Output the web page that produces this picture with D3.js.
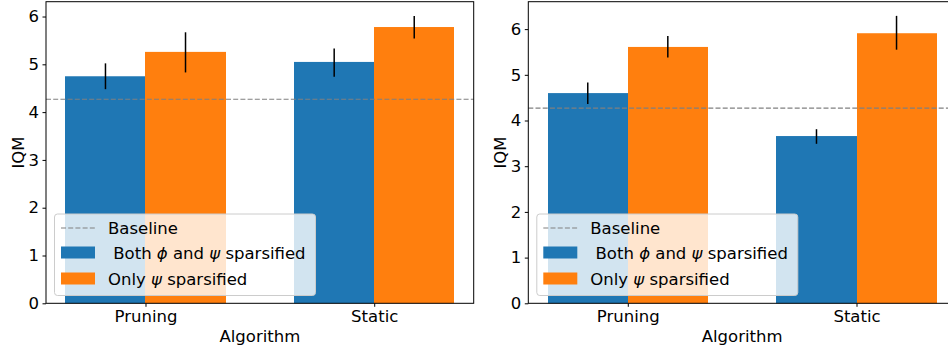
<!DOCTYPE html>
<html>
<head>
<meta charset="utf-8">
<script src="https://cdn.jsdelivr.net/npm/d3@7"></script>
<style>
  body { margin: 0; background: #fff; }
  svg { display: block; font-family: "DejaVu Sans", sans-serif; }
</style>
</head>
<body>
<svg id="chart"></svg>
<script>
// data
const categories = ["Pruning", "Static"];
const yTicks = [0, 1, 2, 3, 4, 5, 6];
const baselineLabel = "Baseline";

// left panel
const leftBoth = [4.75, 5.05];
const leftBothErr = [[4.48, 5.02], [4.74, 5.33]];
const leftOnly = [5.26, 5.78];
const leftOnlyErr = [[4.83, 5.67], [5.54, 6.01]];
const leftBaseline = 4.27;

// right panel
const rightBoth = [4.60, 3.66];
const rightBothErr = [[4.36, 4.83], [3.49, 3.81]];
const rightOnly = [5.61, 5.91];
const rightOnlyErr = [[5.38, 5.85], [5.55, 6.29]];
const rightBaseline = 4.27;

const colors = ["#1f77b4", "#ff7f0e"];
const barW = 0.35;

const W = 948, H = 349;
const svg = d3.select("#chart").attr("width", W).attr("height", H);

function drawPanel(opts) {
  const { left, right, top, bottom, yMax, both, bothErr, only, onlyErr, baseline } = opts;
  const g = svg.append("g");

  const x = d3.scaleLinear().domain([-0.435, 1.435]).range([left, right]);
  const y = d3.scaleLinear().domain([0, yMax]).range([bottom, top]);

  const series = [
    { vals: both, err: bothErr, off: -barW, color: colors[0] },
    { vals: only, err: onlyErr, off: 0, color: colors[1] }
  ];

  // bars
  series.forEach(s => {
    g.selectAll(null)
      .data(s.vals)
      .join("rect")
      .attr("x", (d, i) => Math.round(x(i + s.off)))
      .attr("width", (d, i) => Math.round(x(i + s.off + barW)) - Math.round(x(i + s.off)))
      .attr("y", d => y(d))
      .attr("height", d => y(0) - y(d))
      .attr("fill", s.color);
  });

  // error bars
  series.forEach(s => {
    g.selectAll(null)
      .data(s.err)
      .join("line")
      .attr("x1", (d, i) => x(i + s.off + barW / 2))
      .attr("x2", (d, i) => x(i + s.off + barW / 2))
      .attr("y1", d => y(d[0]))
      .attr("y2", d => y(d[1]))
      .attr("stroke", "#000")
      .attr("stroke-width", 1.5);
  });

  // baseline
  g.append("line")
    .attr("x1", left).attr("x2", right)
    .attr("y1", y(baseline)).attr("y2", y(baseline))
    .attr("stroke", "#808080")
    .attr("stroke-width", 1.1)
    .attr("stroke-dasharray", "5,2.2");

  // axes
  const yAxis = g.append("g")
    .attr("transform", `translate(${left},0)`)
    .call(d3.axisLeft(y).tickValues(yTicks).tickFormat(d3.format("d")).tickSize(3.5).tickPadding(3.5));
  const xAxis = g.append("g")
    .attr("transform", `translate(0,${bottom})`)
    .call(d3.axisBottom(x).tickValues([0, 1]).tickFormat(i => categories[i]).tickSize(3.5).tickPadding(3.5));
  [yAxis, xAxis].forEach(a => {
    a.select(".domain").remove();
    a.selectAll("line").attr("stroke", "#000").attr("stroke-width", 1);
    a.selectAll("text").attr("fill", "#000").style("font-size", "16.5px").style("font-family", "DejaVu Sans");
  });

  // spines
  g.append("rect")
    .attr("x", left).attr("y", top)
    .attr("width", right - left).attr("height", bottom - top)
    .attr("fill", "none")
    .attr("stroke", "#000")
    .attr("stroke-width", 1);

  // axis labels
  g.append("text")
    .attr("x", (left + right) / 2)
    .attr("y", 342)
    .attr("text-anchor", "middle")
    .style("font-size", "16.5px")
    .text("Algorithm");
  g.append("text")
    .attr("transform", `translate(${left - 22},${(top + bottom) / 2}) rotate(-90)`)
    .attr("text-anchor", "middle")
    .style("font-size", "16.5px")
    .text("IQM");

  // legend
  const lx = left + 8.5, ly = 214;
  const lg = g.append("g");
  lg.append("rect")
    .attr("x", lx).attr("y", ly)
    .attr("width", 261).attr("height", 81.5)
    .attr("rx", 3)
    .attr("fill", "#fff").attr("fill-opacity", 0.8)
    .attr("stroke", "#cccccc").attr("stroke-width", 1);
  const hx = lx + 6.5;
  lg.append("line")
    .attr("x1", hx).attr("x2", hx + 34)
    .attr("y1", ly + 14).attr("y2", ly + 14)
    .attr("stroke", "#808080").attr("stroke-width", 1.1)
    .attr("stroke-dasharray", "5,2.2");
  lg.append("text")
    .attr("x", hx + 47).attr("y", ly + 14)
    .attr("dy", "0.35em")
    .style("font-size", "16.5px")
    .text(baselineLabel);

  lg.append("rect")
    .attr("x", hx).attr("y", ly + 32.5)
    .attr("width", 34).attr("height", 12)
    .attr("fill", colors[0]);
  const t1 = lg.append("text")
    .attr("x", hx + 47).attr("y", ly + 39)
    .attr("dy", "0.35em")
    .attr("xml:space", "preserve")
    .style("font-size", "16.5px");
  t1.append("tspan").text(" Both ");
  t1.append("tspan").style("font-style", "italic").text("ϕ");
  t1.append("tspan").text(" and ");
  t1.append("tspan").style("font-style", "italic").text("ψ");
  t1.append("tspan").text(" sparsified");

  lg.append("rect")
    .attr("x", hx).attr("y", ly + 58.5)
    .attr("width", 34).attr("height", 12)
    .attr("fill", colors[1]);
  const t2 = lg.append("text")
    .attr("x", hx + 47).attr("y", ly + 65)
    .attr("dy", "0.35em")
    .attr("xml:space", "preserve")
    .style("font-size", "16.5px");
  t2.append("tspan").text("Only ");
  t2.append("tspan").style("font-style", "italic").text("ψ");
  t2.append("tspan").text(" sparsified");
}

drawPanel({
  left: 46, right: 473.7, top: 1.7, bottom: 303.3, yMax: 6.31,
  both: leftBoth, bothErr: leftBothErr, only: leftOnly, onlyErr: leftOnlyErr,
  baseline: leftBaseline
});
drawPanel({
  left: 528.3, right: 956, top: 1.7, bottom: 303.3, yMax: 6.6,
  both: rightBoth, bothErr: rightBothErr, only: rightOnly, onlyErr: rightOnlyErr,
  baseline: rightBaseline
});
</script>
</body>
</html>
